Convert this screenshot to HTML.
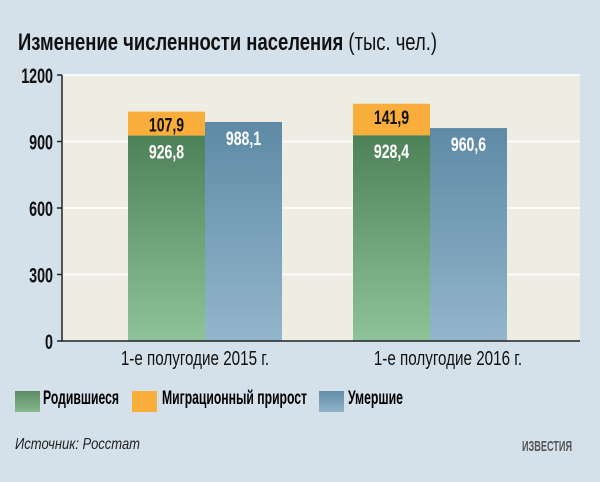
<!DOCTYPE html>
<html><head><meta charset="utf-8">
<style>
body{margin:0;width:600px;height:482px;background:#d5e1ea;font-family:"Liberation Sans",sans-serif;overflow:hidden;position:relative}
.t{position:absolute;white-space:nowrap;transform-origin:0 0}
</style></head><body>
<div class="t fit" data-w="419" style="left:18px;top:29px;font-size:24px;font-weight:bold;color:#111">Изменение численности населения <span style="font-weight:normal">(тыс. чел.)</span></div>
<svg id="c" width="600" height="482" style="position:absolute;left:0;top:0">
<defs>
<linearGradient id="gg" x1="0" y1="0" x2="0" y2="1"><stop offset="0" stop-color="#4f8158"/><stop offset="1" stop-color="#8ec39a"/></linearGradient>
<linearGradient id="gb" x1="0" y1="0" x2="0" y2="1"><stop offset="0" stop-color="#5e8aa6"/><stop offset="1" stop-color="#93b6cb"/></linearGradient>
</defs>
</svg>
<div>
<div style="position:absolute;left:15px;top:391px;width:25px;height:21px;background:linear-gradient(#5d8c63,#85b88d)"></div>
<div class="t fit" data-w="76" style="left:43px;top:388px;font-size:19px;font-weight:bold">Родившиеся</div>
<div style="position:absolute;left:132px;top:391px;width:25px;height:21px;background:#f9ae3c"></div>
<div class="t fit" data-w="145" style="left:162px;top:388px;font-size:19px;font-weight:bold">Миграционный прирост</div>
<div style="position:absolute;left:319px;top:391px;width:25px;height:21px;background:linear-gradient(#628ea9,#8fb3c8)"></div>
<div class="t fit" data-w="55" style="left:348px;top:388px;font-size:19px;font-weight:bold">Умершие</div>
</div>
<div class="t fit" data-w="125" style="left:15px;top:436px;font-size:16px;font-style:italic;color:#222">Источник: Росстат</div>
<div class="t fit" data-w="50" style="left:522px;top:438px;font-size:15px;font-weight:bold;color:#555">ИЗВЕСТИЯ</div>
<script>
const categories=["1-е полугодие 2015 г.","1-е полугодие 2016 г."];
const born=[926.8,928.4];
const migration=[107.9,141.9];
const died=[988.1,960.6];
const ticks=[0,300,600,900,1200];
document.querySelectorAll('.fit').forEach(e=>{const w=e.getBoundingClientRect().width;e.style.transform='scaleX('+(e.dataset.w/w)+')';});
const fmt=v=>v.toFixed(1).replace('.',',');
const svg=document.getElementById('c');const NS='http://www.w3.org/2000/svg';
const y0=341,y1=75,x0=62,x1=580,yMax=1200;
const Y=v=>y0-(v/yMax)*(y0-y1);
const bandStart=143,bandStep=225;
const bw=77;
function el(t,a,txt){const e=document.createElementNS(NS,t);for(const k in a)e.setAttribute(k,a[k]);if(txt!==undefined)e.textContent=txt;svg.appendChild(e);return e;}
function squeeze(e,f){const w=e.getComputedTextLength();e.setAttribute('textLength',w*f);e.setAttribute('lengthAdjust','spacingAndGlyphs');}
let bg=el('rect',{x:x0,y:y1,width:x1-x0,height:y0-y1,fill:'#eeede3'});


ticks.forEach(t=>{
 if(t>0){let g=el('line',{x1:x0,x2:x1,y1:Y(t),y2:Y(t),stroke:'#fff','stroke-width':1.5});
 
 }
 let tk=el('line',{x1:x0-5,x2:x0,y1:Y(t),y2:Y(t),stroke:'#222','stroke-width':1.5});
 
 
 let l=el('text',{x:x0-9,y:Y(t)+8,'text-anchor':'end','font-size':21,'font-weight':'bold',fill:'#111'},t);
 
 
 squeeze(l,0.68);
});
categories.forEach((c,i)=>{
 const cx=x0+bandStart+bandStep*i;
 const gx=cx-bw, bx=cx;
 let r=el('rect',{x:gx,y:Y(born[i]),width:bw,height:y0-Y(born[i]),fill:'url(#gg)'});
 
 
 let m=el('rect',{x:gx,y:Y(born[i]+migration[i]),width:bw,height:Y(born[i])-Y(born[i]+migration[i]),fill:'#f9ae3c'});
 
 
 let d=el('rect',{x:bx,y:Y(died[i]),width:bw,height:y0-Y(died[i]),fill:'url(#gb)'});
 
 
 let t1=el('text',{x:gx+bw/2,y:Y(born[i]+migration[i])+20,'text-anchor':'middle','font-size':19,'font-weight':'bold',fill:'#111'},fmt(migration[i]));
 
 
 squeeze(t1,0.74);
 let t2=el('text',{x:gx+bw/2,y:Y(born[i])+23,'text-anchor':'middle','font-size':19,'font-weight':'bold',fill:'#fff'},fmt(born[i]));
 
 
 squeeze(t2,0.74);
 let t3=el('text',{x:bx+bw/2,y:Y(died[i])+23,'text-anchor':'middle','font-size':19,'font-weight':'bold',fill:'#fff'},fmt(died[i]));
 
 
 squeeze(t3,0.74);
 let cl=el('text',{x:cx-(i===0?10:-18),y:y0+24,'text-anchor':'middle','font-size':20,fill:'#111'},c);
 
 
 squeeze(cl,0.76);
});
let ax=el('path',{d:`M${x0} ${y1} V${y0} H${x1}`,stroke:'#222','stroke-width':1.5,fill:'none'});


</script>
</body></html>
